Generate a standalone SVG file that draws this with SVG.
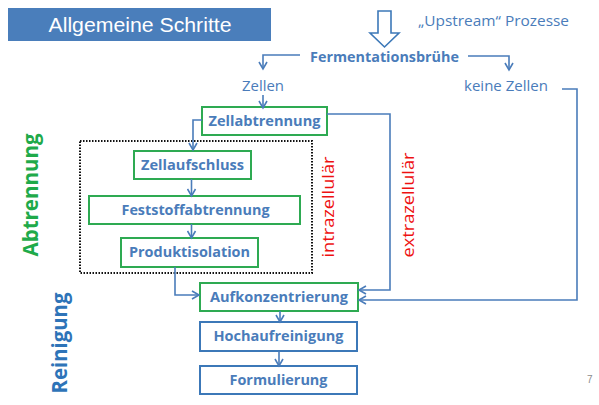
<svg xmlns="http://www.w3.org/2000/svg" width="599" height="405" viewBox="0 0 599 405">
<style>
.bx{fill:#fff;stroke-width:2}
.g{stroke:#2eaa52}
.b{stroke:#3c78b8}
.bt{font-family:"Open Sans","Liberation Sans",sans-serif;font-weight:bold;font-size:14px;fill:#4a7cba;text-anchor:middle}
.nt{font-family:"Open Sans","Liberation Sans",sans-serif;font-size:14.5px;fill:#4a7cba}
.ln{fill:none;stroke:#4a7cba;stroke-width:1.6;marker-end:url(#ah)}
.rt{font-family:"Open Sans","Liberation Sans",sans-serif;font-size:17px;fill:#ee1111;text-anchor:middle}
.side{font-family:"Open Sans","Liberation Sans",sans-serif;font-weight:bold;font-size:21px;text-anchor:middle}
</style>
<defs>
<marker id="ah" markerWidth="10" markerHeight="10" refX="8" refY="5" orient="auto" markerUnits="userSpaceOnUse">
<path d="M1,1 L8,5 L1,9" fill="none" stroke="#4a7cba" stroke-width="1.6"/>
</marker>
</defs>
<rect width="599" height="405" fill="#fff"/>
<g id="title">
<rect x="8" y="8" width="263" height="33" fill="#4a7ebb"/>
<text x="140" y="32" font-family="'Liberation Sans',Arial,sans-serif" font-size="20" fill="#fff" text-anchor="middle" textLength="183" lengthAdjust="spacingAndGlyphs">Allgemeine Schritte</text>
</g>
<g id="upstream">
<path d="M378,11 H391 V33 H399 L384.5,47 L370,33 H378 Z" fill="#fff" stroke="#3c78b8" stroke-width="1.6"/>
<text class="nt" x="418" y="26" textLength="151" lengthAdjust="spacingAndGlyphs">„Upstream“ Prozesse</text>
</g>
<g id="fermentation">
<text class="bt" x="384.5" y="62" textLength="149" lengthAdjust="spacingAndGlyphs">Fermentationsbrühe</text>
</g>
<g id="zellen">
<text class="nt" x="263" y="91" text-anchor="middle" textLength="42" lengthAdjust="spacingAndGlyphs">Zellen</text>
</g>
<g id="keinezellen">
<text class="nt" x="464" y="91" textLength="84" lengthAdjust="spacingAndGlyphs">keine Zellen</text>
</g>
<g id="dotted">
<rect x="80" y="141" width="232" height="132" fill="none" stroke="#111" stroke-width="2" stroke-dasharray="1.5,1.5"/>
</g>
<g id="zellabtrennung">
<rect class="bx g" x="202" y="107" width="125" height="28"/>
<text class="bt" x="264.5" y="126" textLength="112" lengthAdjust="spacingAndGlyphs">Zellabtrennung</text>
</g>
<g id="zellaufschluss">
<rect class="bx g" x="134" y="151" width="117" height="28"/>
<text class="bt" x="192.5" y="170" textLength="103" lengthAdjust="spacingAndGlyphs">Zellaufschluss</text>
</g>
<g id="feststoffabtrennung">
<rect class="bx g" x="89" y="196" width="211" height="28"/>
<text class="bt" x="195.5" y="215" textLength="148" lengthAdjust="spacingAndGlyphs">Feststoffabtrennung</text>
</g>
<g id="produktisolation">
<rect class="bx g" x="121" y="238" width="137" height="29"/>
<text class="bt" x="189.5" y="257" textLength="121" lengthAdjust="spacingAndGlyphs">Produktisolation</text>
</g>
<g id="aufkonzentrierung">
<rect class="bx g" x="200" y="283" width="158" height="28"/>
<text class="bt" x="279" y="302" textLength="138" lengthAdjust="spacingAndGlyphs">Aufkonzentrierung</text>
</g>
<g id="hochaufreinigung">
<rect class="bx b" x="200" y="322" width="157" height="29"/>
<text class="bt" x="278.5" y="341" textLength="130" lengthAdjust="spacingAndGlyphs">Hochaufreinigung</text>
</g>
<g id="formulierung">
<rect class="bx b" x="200" y="366" width="157" height="28"/>
<text class="bt" x="278.5" y="385" textLength="98" lengthAdjust="spacingAndGlyphs">Formulierung</text>
</g>
<g id="labels">
<text class="side" fill="#1faa4a" x="38" y="195" transform="rotate(-90 38 195)" textLength="123" lengthAdjust="spacingAndGlyphs">Abtrennung</text>
<text class="side" fill="#2e74b8" x="67" y="343" transform="rotate(-90 67 343)" textLength="101" lengthAdjust="spacingAndGlyphs">Reinigung</text>
<text class="rt" x="334" y="207" transform="rotate(-90 334 207)" textLength="101" lengthAdjust="spacingAndGlyphs">intrazellulär</text>
<text class="rt" x="414" y="205" transform="rotate(-90 414 205)" textLength="105" lengthAdjust="spacingAndGlyphs">extrazellulär</text>
<text x="587" y="383" font-family="'Liberation Sans',Arial,sans-serif" font-size="10" fill="#8c8c8c">7</text>
</g>
<g id="connectors">
<path class="ln" d="M300,55 H263 V69"/>
<path class="ln" d="M468,56 H509 V70"/>
<path class="ln" d="M263,95 V108"/>
<path class="ln" d="M202,120 H193 V150"/>
<path class="ln" d="M191.5,179 V196"/>
<path class="ln" d="M191.5,224 V238"/>
<path class="ln" d="M175,267 V295 H199"/>
<path class="ln" d="M327,114 H390 V290 H359"/>
<path class="ln" d="M562,89 H577 V300 H359"/>
<path class="ln" d="M280,311 V322"/>
<path class="ln" d="M279,351 V366"/>
</g>
</svg>
